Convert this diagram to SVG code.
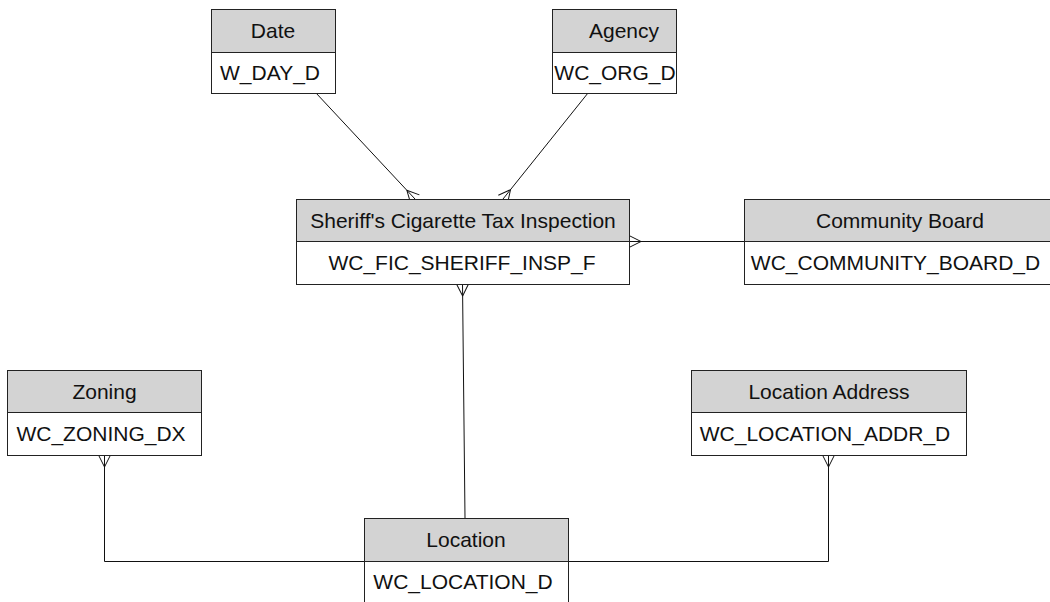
<svg xmlns="http://www.w3.org/2000/svg" width="1050" height="602" viewBox="0 0 1050 602">
<style>
.hd{fill:#d3d3d3;stroke:#222;stroke-width:1}
.rw{fill:#fff;stroke:#222;stroke-width:1}
.t{font-family:"Liberation Sans",Arial,sans-serif;font-size:21px;fill:#111;text-anchor:middle}
.c{fill:none;stroke:#111;stroke-width:1}
</style>
<defs>
<marker id="crow" markerUnits="userSpaceOnUse" markerWidth="24" markerHeight="24" refX="12" refY="0" viewBox="-2 -12 24 24" orient="auto" overflow="visible">
<path d="M0,0 L12,-6 M0,0 L12,6" fill="none" stroke="#111" stroke-width="1"/>
</marker>
</defs>
<rect width="1050" height="602" fill="#fff"/>
<g id="connectors">
<path class="c" d="M316,93 L415,199" marker-end="url(#crow)"/>
<path class="c" d="M588,93 L503,199" marker-end="url(#crow)"/>
<path class="c" d="M744,241.5 L629,241.5" marker-end="url(#crow)"/>
<path class="c" d="M465,518 L462.5,284" marker-end="url(#crow)"/>
<path class="c" d="M364,561.5 L104.5,561.5 L104.5,455" marker-end="url(#crow)"/>
<path class="c" d="M568,561.5 L828.5,561.5 L828.5,455" marker-end="url(#crow)"/>
</g>
<g id="date">
<rect class="hd" x="211.5" y="9.5" width="124" height="43"/>
<rect class="rw" x="211.5" y="52.5" width="124" height="41"/>
<text class="t" x="273" y="38">Date</text>
<text class="t" x="270" y="80">W_DAY_D</text>
</g>
<g id="agency">
<rect class="hd" x="552.5" y="9.5" width="124" height="43"/>
<rect class="rw" x="552.5" y="52.5" width="124" height="41"/>
<text class="t" x="624" y="38">Agency</text>
<text class="t" x="615" y="80">WC_ORG_D</text>
</g>
<g id="inspection">
<rect class="hd" x="296.5" y="199.5" width="333" height="42"/>
<rect class="rw" x="296.5" y="241.5" width="333" height="43"/>
<text class="t" x="463" y="228">Sheriff's Cigarette Tax Inspection</text>
<text class="t" x="462" y="270">WC_FIC_SHERIFF_INSP_F</text>
</g>
<g id="community">
<rect class="hd" x="744.5" y="199.5" width="311" height="42"/>
<rect class="rw" x="744.5" y="241.5" width="311" height="43"/>
<text class="t" x="900" y="228">Community Board</text>
<text class="t" x="895.5" y="270">WC_COMMUNITY_BOARD_D</text>
</g>
<g id="zoning">
<rect class="hd" x="7.5" y="370.5" width="194" height="42"/>
<rect class="rw" x="7.5" y="412.5" width="194" height="43"/>
<text class="t" x="104.5" y="399">Zoning</text>
<text class="t" x="101" y="441">WC_ZONING_DX</text>
</g>
<g id="location-address">
<rect class="hd" x="691.5" y="370.5" width="275" height="42"/>
<rect class="rw" x="691.5" y="412.5" width="275" height="43"/>
<text class="t" x="829" y="399">Location Address</text>
<text class="t" x="825" y="441">WC_LOCATION_ADDR_D</text>
</g>
<g id="location">
<rect class="hd" x="364.5" y="518.5" width="204" height="43"/>
<rect class="rw" x="364.5" y="561.5" width="204" height="45"/>
<text class="t" x="466" y="547">Location</text>
<text class="t" x="463" y="589">WC_LOCATION_D</text>
</g>
</svg>
